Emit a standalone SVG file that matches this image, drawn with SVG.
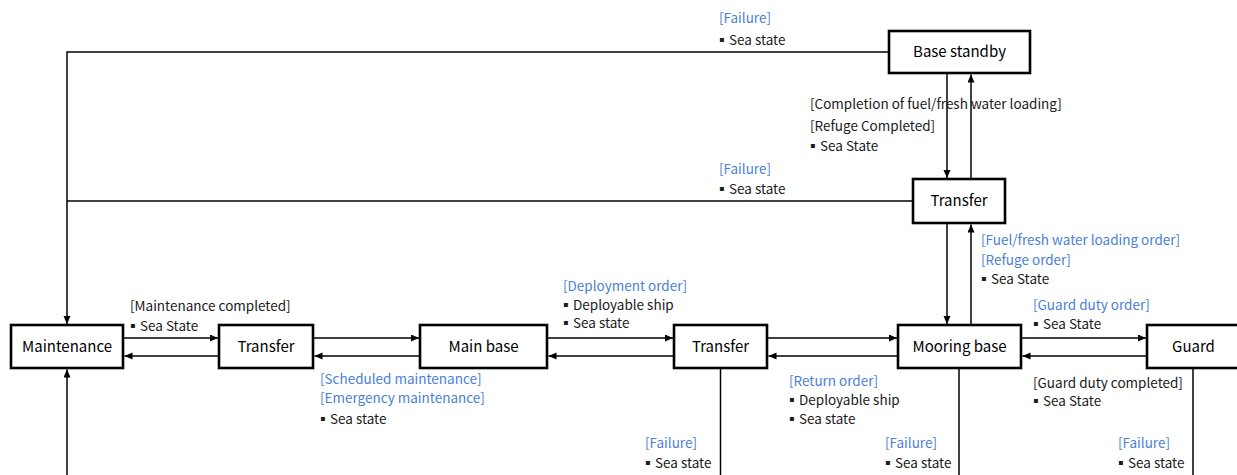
<svg xmlns="http://www.w3.org/2000/svg" width="1237" height="475" viewBox="0 0 1237 475">
<defs>
<marker id="ah" markerUnits="userSpaceOnUse" markerWidth="9" markerHeight="8" refX="8" refY="3.5" orient="auto">
<path d="M0,0 L8,3.5 L0,7 z" fill="#000"/>
</marker>
<style>
.box{fill:#fff;stroke:#000;stroke-width:2.6}
.nl{font-family:"Noto Sans CJK KR","Noto Sans",sans-serif;font-size:15px;font-weight:400;fill:#000;text-anchor:middle}
.c{fill:none;stroke:#000;stroke-width:1.5}
.a{marker-end:url(#ah)}
.t{font-family:"Noto Sans CJK KR","Noto Sans",sans-serif;font-size:13.5px;fill:#1a1a1a}
.b{fill:#4a7fd6}
.d{font-family:"DejaVu Sans",sans-serif;font-size:8px}
</style>
</defs>
<rect width="1237" height="475" fill="#fff"/>
<g id="connectors">
<path class="c a" d="M889,52 H67 V324"/>
<path class="c" d="M913,201 H67"/>
<path class="c a" d="M67,475 V369.5"/>
<path class="c a" d="M123,338 H218"/>
<path class="c a" d="M219,356 H124.5"/>
<path class="c a" d="M313,338 H419"/>
<path class="c a" d="M420,356 H314.5"/>
<path class="c a" d="M547,338 H673"/>
<path class="c a" d="M674,356 H548.5"/>
<path class="c a" d="M767,338 H897"/>
<path class="c a" d="M898,356 H768.5"/>
<path class="c a" d="M1021,338 H1146"/>
<path class="c a" d="M1147,356 H1022.5"/>
<path class="c a" d="M947,73 V178"/>
<path class="c a" d="M971,179 V74.5"/>
<path class="c a" d="M947,223 V324"/>
<path class="c a" d="M971,325 V224.5"/>
<path class="c" d="M720.5,368 V475"/>
<path class="c" d="M959,368 V475"/>
<path class="c" d="M1193,368 V475"/>
</g>
<g id="node-base-standby"><rect class="box" x="889" y="31" width="141" height="42"/><text class="nl" x="959.5" y="57">Base standby</text></g>
<g id="node-transfer-top"><rect class="box" x="913" y="179" width="92" height="44"/><text class="nl" x="959" y="206">Transfer</text></g>
<g id="node-maintenance"><rect class="box" x="11" y="325" width="112" height="43"/><text class="nl" x="67" y="352">Maintenance</text></g>
<g id="node-transfer-left"><rect class="box" x="219" y="325" width="94" height="43"/><text class="nl" x="266" y="352">Transfer</text></g>
<g id="node-main-base"><rect class="box" x="420" y="325" width="127" height="43"/><text class="nl" x="483.5" y="352">Main base</text></g>
<g id="node-transfer-mid"><rect class="box" x="674" y="325" width="93" height="43"/><text class="nl" x="720.5" y="352">Transfer</text></g>
<g id="node-mooring-base"><rect class="box" x="898" y="325" width="123" height="43"/><text class="nl" x="959.5" y="352">Mooring base</text></g>
<g id="node-guard"><rect class="box" x="1147" y="325" width="93" height="43"/><text class="nl" x="1193.5" y="352">Guard</text></g>
<g id="labels">
<text class="t b" x="719" y="23">[Failure]</text>
<text class="t" x="719" y="45"><tspan class="d" dy="-3">▪</tspan><tspan x="729" dy="3">Sea state</tspan></text>
<text class="t" x="810" y="109">[Completion of fuel/fresh water loading]</text>
<text class="t" x="810" y="131">[Refuge Completed]</text>
<text class="t" x="810" y="151"><tspan class="d" dy="-3">▪</tspan><tspan x="820" dy="3">Sea State</tspan></text>
<text class="t b" x="719" y="174">[Failure]</text>
<text class="t" x="719" y="194"><tspan class="d" dy="-3">▪</tspan><tspan x="729" dy="3">Sea state</tspan></text>
<text class="t b" x="981" y="245">[Fuel/fresh water loading order]</text>
<text class="t b" x="981" y="265">[Refuge order]</text>
<text class="t" x="981" y="284"><tspan class="d" dy="-3">▪</tspan><tspan x="991" dy="3">Sea State</tspan></text>
<text class="t b" x="1033" y="310">[Guard duty order]</text>
<text class="t" x="1033" y="329"><tspan class="d" dy="-3">▪</tspan><tspan x="1043" dy="3">Sea State</tspan></text>
<text class="t" x="130" y="311">[Maintenance completed]</text>
<text class="t" x="130" y="331"><tspan class="d" dy="-3">▪</tspan><tspan x="140" dy="3">Sea State</tspan></text>
<text class="t b" x="320" y="384">[Scheduled maintenance]</text>
<text class="t b" x="320" y="403">[Emergency maintenance]</text>
<text class="t" x="320" y="424"><tspan class="d" dy="-3">▪</tspan><tspan x="330" dy="3">Sea state</tspan></text>
<text class="t b" x="563" y="291">[Deployment order]</text>
<text class="t" x="563" y="310"><tspan class="d" dy="-3">▪</tspan><tspan x="573" dy="3">Deployable ship</tspan></text>
<text class="t" x="563" y="328"><tspan class="d" dy="-3">▪</tspan><tspan x="573" dy="3">Sea state</tspan></text>
<text class="t b" x="789" y="386">[Return order]</text>
<text class="t" x="789" y="405"><tspan class="d" dy="-3">▪</tspan><tspan x="799" dy="3">Deployable ship</tspan></text>
<text class="t" x="789" y="424"><tspan class="d" dy="-3">▪</tspan><tspan x="799" dy="3">Sea state</tspan></text>
<text class="t" x="1033" y="388">[Guard duty completed]</text>
<text class="t" x="1033" y="406"><tspan class="d" dy="-3">▪</tspan><tspan x="1043" dy="3">Sea State</tspan></text>
<text class="t b" x="645" y="448">[Failure]</text>
<text class="t" x="645" y="468"><tspan class="d" dy="-3">▪</tspan><tspan x="655" dy="3">Sea state</tspan></text>
<text class="t b" x="885" y="448">[Failure]</text>
<text class="t" x="885" y="468"><tspan class="d" dy="-3">▪</tspan><tspan x="895" dy="3">Sea state</tspan></text>
<text class="t b" x="1118" y="448">[Failure]</text>
<text class="t" x="1118" y="468"><tspan class="d" dy="-3">▪</tspan><tspan x="1128" dy="3">Sea state</tspan></text>
</g>
</svg>
